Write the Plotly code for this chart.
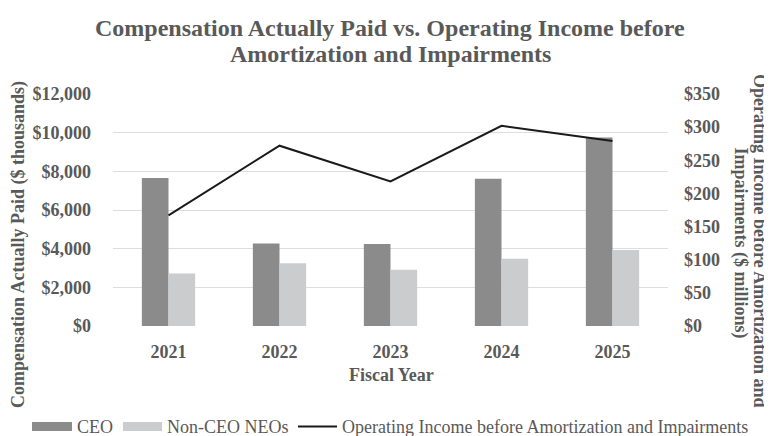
import plotly.graph_objects as go

years = ["2021", "2022", "2023", "2024", "2025"]
ceo_cap = [7660, 4270, 4240, 7620, 9750]          # $ thousands
non_ceo_cap = [2710, 3250, 2910, 3480, 3930]      # $ thousands
op_income = [167, 272, 218, 302, 279]             # $ millions

series_names = ["CEO", "Non-CEO NEOs", "Operating Income before Amortization and Impairments"]
series_colors = ["#8b8b8b", "#cbcccd", "#1a1a1a"]

TXT = "#595959"
FONT = "Liberation Serif"

# The page body has an 8px margin, so the figure is drawn 8px in from the window corner.
OFF = 8
W, H = 772 - OFF, 436 - OFF
# plot area in window pixels: x 113..668, y 94..326
PX0, PX1, PY0, PY1 = 113, 668, 94, 326
L, T = PX0 - OFF, PY0 - OFF
R, B = W - (PX1 - OFF), H - (PY1 - OFF)
PW, PH = PX1 - PX0, PY1 - PY0


def xp(px):
    return (px - PX0) / PW


def yp(py):
    return (PY1 - py) / PH


fig = go.Figure()
fig.add_trace(go.Bar(x=years, y=ceo_cap, name=series_names[0], marker_color=series_colors[0],
                     marker_line_width=0, showlegend=False))
fig.add_trace(go.Bar(x=years, y=non_ceo_cap, name=series_names[1], marker_color=series_colors[1],
                     marker_line_width=0, showlegend=False))
fig.add_trace(go.Scatter(x=years, y=op_income, name=series_names[2], mode="lines",
                         line=dict(color=series_colors[2], width=2), yaxis="y2",
                         showlegend=False))

tick_font = dict(family=FONT, size=18, color=TXT, weight="bold")
fig.update_layout(
    width=W, height=H,
    margin=dict(l=L, r=R, t=T, b=B),
    paper_bgcolor="white", plot_bgcolor="white",
    font=dict(family=FONT, color=TXT, size=18),
    barmode="group", bargap=0.52, bargroupgap=0,
    showlegend=False,
    xaxis=dict(showgrid=False, showline=False, zeroline=False, ticks="",
               tickfont=tick_font, ticklabelstandoff=13),
    yaxis=dict(range=[0, 12000], dtick=2000, tickprefix="$", tickformat=",d",
               showgrid=True, gridcolor="#dedede", gridwidth=1.3, zeroline=False,
               showline=False, ticks="", tickfont=tick_font, ticklabelstandoff=21),
    yaxis2=dict(range=[0, 350], dtick=50, tickprefix="$", overlaying="y", side="right",
                showgrid=False, zeroline=False, showline=False, ticks="",
                tickfont=tick_font, ticklabelstandoff=15),
)


def ann(text, x, y, size=18, bold=True, angle=0, xanchor="center"):
    return dict(text=text, x=xp(x), y=yp(y), xref="paper", yref="paper",
                xanchor=xanchor, yanchor="middle", textangle=angle, showarrow=False,
                font=dict(family=FONT, size=size, color=TXT,
                          weight="bold" if bold else "normal"))


anns = [
    ann("Compensation Actually Paid vs. Operating Income before", 390, 27.5, size=24),
    ann("Amortization and Impairments", 390, 53.5, size=24),
    ann("Fiscal Year", 391, 374.5),
    ann("Compensation Actually Paid ($ thousands)", 18.5, 244.5, angle=-90),
    ann("Operating Income before Amortization and", 760, 241, angle=90),
    ann("Impairments ($ millions)", 740, 242.5, angle=90),
    # legend labels
    ann(series_names[0], 74.5, 426.5, bold=False, xanchor="left"),
    ann(series_names[1], 164.5, 426.5, bold=False, xanchor="left"),
    ann(series_names[2], 339.5, 426.5, bold=False, xanchor="left"),
]

shapes = [
    dict(type="rect", xref="paper", yref="paper", x0=xp(32), x1=xp(72), y0=yp(431), y1=yp(422),
         fillcolor=series_colors[0], line_width=0),
    dict(type="rect", xref="paper", yref="paper", x0=xp(123), x1=xp(162), y0=yp(431), y1=yp(422),
         fillcolor=series_colors[1], line_width=0),
    dict(type="line", xref="paper", yref="paper", x0=xp(298), x1=xp(337), y0=yp(426.5), y1=yp(426.5),
         line=dict(color=series_colors[2], width=2)),
]
fig.update_layout(annotations=anns, shapes=shapes)

fig.write_html("out.html")
